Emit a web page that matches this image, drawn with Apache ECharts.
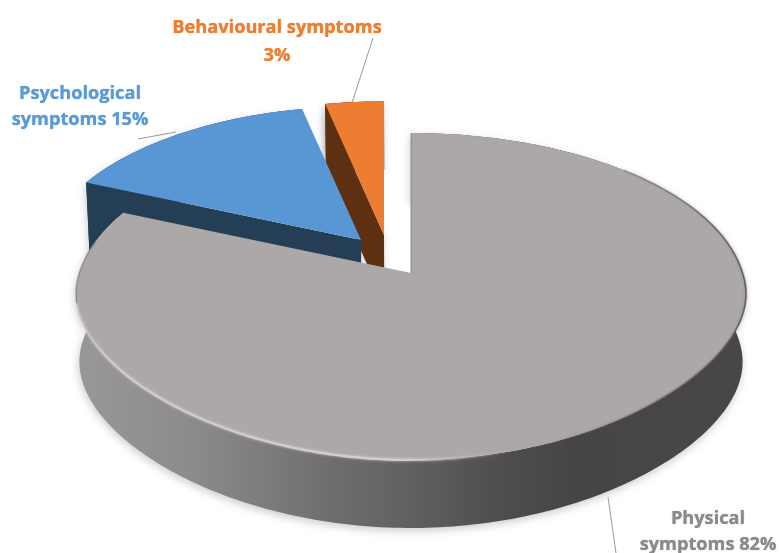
<!DOCTYPE html>
<html>
<head>
<meta charset="utf-8">
<style>html,body{margin:0;padding:0;background:#fff}#c{width:780px;height:553px}</style>
<script src="https://cdn.jsdelivr.net/npm/echarts@6/dist/echarts.min.js"></script>
</head>
<body>
<div id="c"></div>
<script>
// Data (percent shares, clockwise from 12 o'clock; labels show them rounded)
var categories = ['Physical symptoms', 'Psychological symptoms', 'Behavioural symptoms'];
var values = [81.5, 15.1, 3.4];

// Styles per slice
var topColors = ['#aca8a7', '#5897d3', '#ed7d31'];
var wallColors = ['#6f6d6c', '#243f55', '#5e3012'];
var labelColors = ['#8c8a89', '#5b9bd5', '#ed7d31'];
var explodeX = [0, -50, -27];
var explodeY = [0, -33, -38];
var sliceScale = [1, 0.955, 0.955];
var labelLines = [
  function (c, p) { var w = c.split(' '); return [w[0], w[1] + ' ' + p + '%']; },
  function (c, p) { var w = c.split(' '); return [w[0], w[1] + ' ' + p + '%']; },
  function (c, p) { return [c, p + '%']; }
];
var labelPos = [[708, 519, 26], [80, 94, 26], [277, 28, 28]];
var leaders = [[[608, 497], [616, 553]], [[138, 139], [176, 132]], [[373, 38], [352, 103]]];

// Projection of the tilted disc
var X0 = 411, Y0 = 273, A = 160.1, B = 331.5, P = 0.1437, DEPTH = 68, BOTTOM_SCALE = 0.99;
function project(u, v) {
  var d = 1 + P * v;
  var y = Y0 - A * v / d;
  if (v < 0) y += 20 * u * u * v;
  return [X0 + B * u / d, y];
}
function dropped(pt) {
  return [X0 + (pt[0] - X0) * BOTTOM_SCALE, pt[1] + DEPTH];
}
var total = values.reduce(function (a, b) { return a + b; }, 0);
var starts = [];
values.reduce(function (acc, v, i) { starts[i] = acc; return acc + v; }, 0);

function place(i, pt) {
  var s = sliceScale[i];
  return [X0 + explodeX[i] + s * (pt[0] - X0), Y0 + explodeY[i] + s * (pt[1] - Y0)];
}
function rimPoints(i, a0, a1) {
  var pts = [];
  var n = Math.max(2, Math.ceil(Math.abs(a1 - a0)));
  for (var k = 0; k <= n; k++) {
    var t = (a0 + (a1 - a0) * k / n) * Math.PI / 180;
    pts.push(place(i, project(Math.sin(t), Math.cos(t))));
  }
  return pts;
}

var grayWall = new echarts.graphic.LinearGradient(78, 0, 745, 0, [
  { offset: 0, color: '#9a9897' },
  { offset: 0.183, color: '#8c8a89' },
  { offset: 0.378, color: '#706e6d' },
  { offset: 0.483, color: '#646261' },
  { offset: 0.633, color: '#4f4d4d' },
  { offset: 0.738, color: '#464444' },
  { offset: 1, color: '#484646' }
], true);
var rimLight = new echarts.graphic.LinearGradient(78, 0, 510, 0, [
  { offset: 0, color: 'rgba(205,203,202,0.5)' },
  { offset: 0.1, color: '#cfcdcc' },
  { offset: 0.75, color: '#d2d0cf' },
  { offset: 1, color: 'rgba(172,168,167,0)' }
], true);
var rimDark = new echarts.graphic.LinearGradient(500, 0, 747, 0, [
  { offset: 0, color: 'rgba(172,168,167,0)' },
  { offset: 0.6, color: 'rgba(110,108,108,0.55)' },
  { offset: 1, color: 'rgba(78,76,76,0.8)' }
], true);

function renderItem(params, api) {
  var i = api.value(0);
  var a0 = starts[i] / total * 360;
  var a1 = (starts[i] + values[i]) / total * 360;
  var rim = rimPoints(i, a0, a1);
  var apex = place(i, [X0, Y0]);
  var kids = [];
  var wallFill = i === 0 ? grayWall : wallColors[i];
  var shadow = { shadowBlur: 9, shadowColor: 'rgba(0,0,0,0.2)', shadowOffsetX: -1, shadowOffsetY: 3 };

  // outer wall
  var wall = rim.concat(rim.slice().reverse().map(dropped));
  kids.push({ type: 'polygon', shape: { points: wall }, style: Object.assign({ fill: wallFill }, shadow) });

  // cut wall, visible on the slices lifted away from the main one
  if (i > 0) {
    var first = rim[0];
    kids.push({
      type: 'polygon',
      shape: { points: [first, apex, dropped(apex), dropped(first)] },
      style: Object.assign({ fill: wallColors[i] }, i === 2 ? shadow : {})
    });
  }

  // top surface
  kids.push({ type: 'polygon', shape: { points: rim.concat([apex]) }, style: { fill: topColors[i] } });

  if (i === 0) {
    kids.push({
      type: 'polyline',
      shape: { points: rimPoints(0, 165, 258) },
      style: { fill: null, stroke: rimLight, lineWidth: 2.2, shadowBlur: 3, shadowColor: 'rgba(215,213,212,0.8)' }
    });
    kids.push({
      type: 'polyline',
      shape: { points: rimPoints(0, 45, 165) },
      style: { fill: null, stroke: rimDark, lineWidth: 1.6, shadowBlur: 3, shadowColor: 'rgba(90,88,88,0.5)' }
    });
    kids.push({
      type: 'polyline',
      shape: { points: rimPoints(0, 258, 282) },
      style: { fill: null, stroke: 'rgba(120,118,118,0.55)', lineWidth: 1.4, shadowBlur: 2, shadowColor: 'rgba(120,118,118,0.4)' }
    });
    kids.push({
      type: 'polyline',
      shape: { points: [rim[0], apex] },
      style: { fill: null, stroke: 'rgba(95,93,92,0.6)', lineWidth: 1 }
    });
  }
  return { type: 'group', children: kids };
}

function renderLabel(params, api) {
  var i = api.value(0);
  var pct = Math.round(values[i]);
  var lines = labelLines[i](categories[i], pct);
  var pos = labelPos[i];
  var kids = [{
    type: 'polyline',
    shape: { points: leaders[i] },
    style: { fill: null, stroke: '#9a9a9a', lineWidth: 1 }
  }];
  lines.forEach(function (t, k) {
    kids.push({
      type: 'text',
      style: {
        x: pos[0], y: pos[1] + k * pos[2], text: t,
        fill: labelColors[i],
        font: 'bold 18.2px "Open Sans", sans-serif',
        align: 'center', verticalAlign: 'middle',
        textShadowBlur: 1, textShadowColor: labelColors[i]
      }
    });
  });
  return { type: 'group', children: kids };
}

var chart = echarts.init(document.getElementById('c'), null, { renderer: 'canvas' });
chart.setOption({
  animation: false,
  backgroundColor: '#ffffff',
  series: [
    { type: 'custom', coordinateSystem: 'none', silent: true, renderItem: renderItem, data: [[2], [1], [0]], z: 2 },
    { type: 'custom', coordinateSystem: 'none', silent: true, renderItem: renderLabel, data: [[2], [1], [0]], z: 3 }
  ]
});
</script>
</body>
</html>
